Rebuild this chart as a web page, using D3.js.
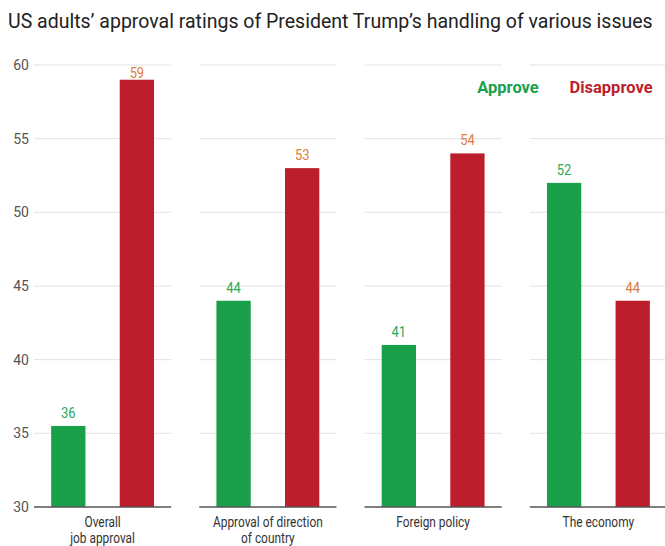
<!DOCTYPE html>
<html>
<head>
<meta charset="utf-8">
<script src="https://cdn.jsdelivr.net/npm/d3@7"></script>
<style>
  body { margin: 0; background: #fff; }
  svg { font-family: Roboto, "Liberation Sans", sans-serif; }
</style>
</head>
<body>
<div id="chart"></div>
<script>
const categories = ['Overall\njob approval', 'Approval of direction\nof country', 'Foreign policy', 'The economy'];
const seriesNames = ['Approve', 'Disapprove'];
const approve = [35.5, 44, 41, 52];
const disapprove = [59, 53, 54, 44];
const yTicks = [30, 35, 40, 45, 50, 55, 60];

const width = 665;
const height = 546;
const barColors = {Approve: '#1a9f4b', Disapprove: '#bc1f2b'};
const labelColors = {Approve: '#2aa858', Disapprove: '#e07b3a'};

// squeeze a text to look like a condensed face
const condense = (sel, k) => sel.each(function() {
  const w = this.getComputedTextLength();
  d3.select(this)
    .attr('textLength', w * k)
    .attr('lengthAdjust', 'spacingAndGlyphs');
});

const svg = d3.select('#chart').append('svg')
  .attr('width', width)
  .attr('height', height);

const title = svg.append('text')
  .attr('x', 8)
  .attr('y', 28)
  .style('font-size', '19.5px')
  .attr('fill', '#222')
  .text('US adults\u2019 approval ratings of President Trump\u2019s handling of various issues');
// keep the title inside the frame
const tw = title.node().getComputedTextLength();
if (tw > 652) title.style('font-size', (19.5 * 652 / tw) + 'px');

const yScale = d3.scaleLinear()
  .domain([30, 60])
  .range([507, 65]);

const xOuter = d3.scaleBand()
  .domain(categories)
  .range([34, 667])
  .paddingInner(0.17);

const xInner = d3.scaleBand()
  .domain(seriesNames)
  .range([0, xOuter.bandwidth()])
  .paddingInner(0.5)
  .paddingOuter(0.25);

// y tick labels
svg.append('g')
  .selectAll('text')
  .data(yTicks)
  .join('text')
  .attr('x', 29)
  .attr('y', d => yScale(d))
  .attr('dy', '0.35em')
  .attr('text-anchor', 'end')
  .style('font-size', '14px')
  .attr('fill', '#555')
  .text(d => d);

const rows = categories.map((c, i) => ({
  cat: c,
  values: [
    {key: 'Approve', value: approve[i]},
    {key: 'Disapprove', value: disapprove[i]}
  ]
}));

const panel = svg.selectAll('g.panel')
  .data(rows)
  .join('g')
  .classed('panel', true)
  .attr('transform', d => `translate(${xOuter(d.cat)}, 0)`);

// gridlines
panel.selectAll('line.grid')
  .data(yTicks.filter(t => t > 30))
  .join('line')
  .classed('grid', true)
  .attr('x1', 0)
  .attr('x2', xOuter.bandwidth())
  .attr('y1', d => yScale(d))
  .attr('y2', d => yScale(d))
  .attr('stroke', '#e2e2e2')
  .attr('stroke-width', 1);

panel.selectAll('rect')
  .data(d => d.values)
  .join('rect')
  .attr('x', d => xInner(d.key))
  .attr('width', xInner.bandwidth())
  .attr('y', d => yScale(d.value))
  .attr('height', d => yScale(30) - yScale(d.value))
  .attr('fill', d => barColors[d.key]);

panel.selectAll('text.value')
  .data(d => d.values)
  .join('text')
  .classed('value', true)
  .attr('x', d => xInner(d.key) + xInner.bandwidth() / 2)
  .attr('y', d => Math.max(yScale(d.value) - 8, yScale(60) + 13))
  .attr('text-anchor', 'middle')
  .style('font-size', '14px')
  .attr('fill', d => labelColors[d.key])
  .text(d => Math.round(d.value))
  .call(condense, 0.92);

// baseline
panel.append('line')
  .attr('x1', 0)
  .attr('x2', xOuter.bandwidth())
  .attr('y1', yScale(30))
  .attr('y2', yScale(30))
  .attr('stroke', '#555')
  .attr('stroke-width', 1.5);

panel.append('text')
  .attr('y', 527)
  .attr('text-anchor', 'middle')
  .style('font-size', '14px')
  .attr('fill', '#333')
  .selectAll('tspan')
  .data(d => d.cat.split('\n'))
  .join('tspan')
  .attr('x', xOuter.bandwidth() / 2)
  .attr('dy', (d, i) => i ? 16 : 0)
  .text(d => d)
  .call(condense, 0.85);

// legend
const legendX = {Approve: 508, Disapprove: 611};
svg.append('g')
  .selectAll('text')
  .data(seriesNames)
  .join('text')
  .attr('x', d => legendX[d])
  .attr('y', 93)
  .attr('text-anchor', 'middle')
  .style('font-size', '16.5px')
  .style('font-weight', 'bold')
  .attr('fill', d => barColors[d])
  .text(d => d);
</script>
</body>
</html>
